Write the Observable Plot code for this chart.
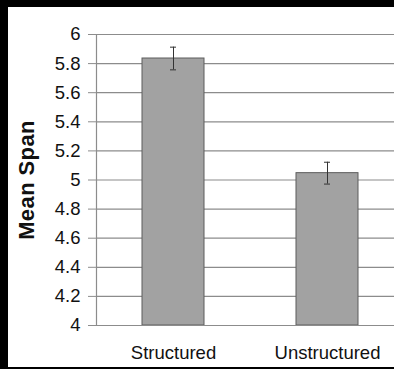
<!DOCTYPE html>
<html>
<head>
<meta charset="utf-8">
<script src="https://cdn.jsdelivr.net/npm/d3@7"></script>
<script src="https://cdn.jsdelivr.net/npm/@observablehq/plot@0.6"></script>
<style>
  html, body { margin: 0; padding: 0; background: #fff; overflow: hidden; width: 394px; height: 369px; }
  #page { position: absolute; left: 0; top: 0; width: 394px; height: 369px; background: #000; overflow: hidden; }
  #wrap { position: absolute; left: 8px; top: 7px; width: 386px; height: 360px; background: #fff; }
  #wrap svg { display: block; background: #fff; }
  [aria-label="y-axis label"] text { font-weight: bold; font-size: 22px; letter-spacing: 0.4px; }
</style>
</head>
<body>
<div id="page"><div id="wrap"></div></div>
<script>
const categories = ["Structured", "Unstructured"];
const means = [5.835, 5.047];
const errors = [0.078, 0.075];
const yTicks = [4, 4.2, 4.4, 4.6, 4.8, 5, 5.2, 5.4, 5.6, 5.8, 6];
const yTickLabels = ["4", "4.2", "4.4", "4.6", "4.8", "5", "5.2", "5.4", "5.6", "5.8", "6"];
const yLabel = "Mean Span";

const data = categories.map((c, i) => ({
  category: c,
  mean: means[i],
  lo: means[i] - errors[i],
  hi: means[i] + errors[i]
}));

const chart = Plot.plot({
  width: 386,
  height: 360,
  marginLeft: 88,
  marginTop: 27,
  marginBottom: 42,
  marginRight: 0,
  style: { fontFamily: "'Liberation Sans', Arial, sans-serif", fontSize: "18.5px", color: "#111", background: "#fff" },
  x: { domain: categories, range: [88, 396], paddingInner: 0.6, paddingOuter: 0.3, label: null },
  y: { domain: [4, 6], label: yLabel },
  marks: [
    Plot.ruleY(yTicks.slice(1), { stroke: "#8c8c8c", strokeWidth: 1.2 }),
    Plot.barY(data, { x: "category", y1: 4, y2: "mean", fill: "#a2a2a2", stroke: "#5c5c5c", strokeWidth: 1 }),
    Plot.ruleX(data, { x: "category", y1: "lo", y2: "hi", stroke: "#333", strokeWidth: 1 }),
    Plot.tickY(data, { x: "category", y: "lo", stroke: "#333", insetLeft: 28, insetRight: 28 }),
    Plot.tickY(data, { x: "category", y: "hi", stroke: "#333", insetLeft: 28, insetRight: 28 }),
    Plot.ruleY([4], { stroke: "#8c8c8c", strokeWidth: 1.2 }),
    Plot.frame({ anchor: "left", stroke: "#8c8c8c", strokeWidth: 1.2 }),
    Plot.axisY({
      ticks: yTicks,
      tickFormat: (d) => yTickLabels[yTicks.indexOf(d)],
      tickSize: 8,
      tickPadding: 8,
      stroke: "#8c8c8c",
      label: yLabel,
      labelAnchor: "center",
      labelArrow: "none",
      labelOffset: 78
    }),
    Plot.axisX({ tickSize: 0, tickPadding: 20, label: null })
  ]
});
document.getElementById("wrap").appendChild(chart);
</script>
</body>
</html>
